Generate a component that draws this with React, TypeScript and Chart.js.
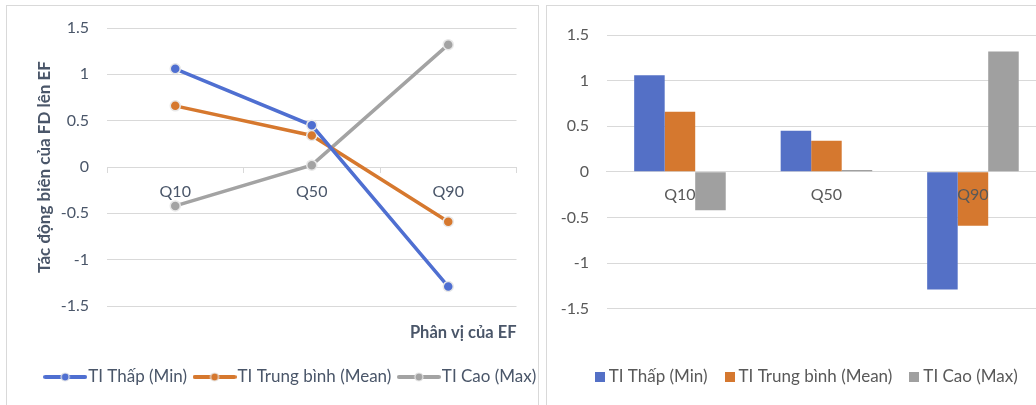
import React, { useEffect, useRef } from 'react';
import { Chart, registerables } from 'chart.js';

Chart.register(...registerables);

const categories = ['Q10', 'Q50', 'Q90'];
const seriesNames = ['TI Thấp (Min)', 'TI Trung bình (Mean)', 'TI Cao (Max)'];
const minValues = [1.06, 0.45, -1.29];
const meanValues = [0.66, 0.34, -0.59];
const maxValues = [-0.42, 0.02, 1.32];
const yTickValues = [-1.5, -1, -0.5, 0, 0.5, 1, 1.5];
const yTickLabels = ['-1.5', '-1', '-0.5', '0', '0.5', '1', '1.5'];
const yAxisTitle = 'Tác động biên của FD lên EF';
const xAxisTitle = 'Phân vị của EF';

const lineColors = ['#4F6FD1', '#D6782E', '#A3A3A3'];
const barColors = ['#5470C6', '#D5782F', '#A0A0A0'];
const FONT = 'Lato';
const leftText = '#4A5669';
const rightText = '#595959';
const gridColor = '#D9D9D9';

const tickLabel = (v: any) => {
  const i = yTickValues.indexOf(Number(v));
  return i >= 0 ? yTickLabels[i] : String(v);
};

function lineMarker(color: string) {
  const c = document.createElement('canvas');
  c.width = 44;
  c.height = 12;
  const g = c.getContext('2d')!;
  g.strokeStyle = color;
  g.lineWidth = 4;
  g.lineCap = 'round';
  g.beginPath();
  g.moveTo(2, 6);
  g.lineTo(42, 6);
  g.stroke();
  g.beginPath();
  g.arc(22, 6, 4, 0, Math.PI * 2);
  g.fillStyle = color;
  g.fill();
  g.lineWidth = 1.2;
  g.strokeStyle = '#E8E8E8';
  g.stroke();
  return c;
}

function squareMarker(color: string) {
  const c = document.createElement('canvas');
  c.width = 10;
  c.height = 10;
  const g = c.getContext('2d')!;
  g.fillStyle = color;
  g.fillRect(0, 0, 10, 10);
  return c;
}

const fixY = (w: number) => (s: any) => {
  s.width = w;
  s.paddingTop = 0;
  s.paddingBottom = 0;
};

export default function App() {
  const leftRef = useRef<HTMLCanvasElement>(null);
  const rightRef = useRef<HTMLCanvasElement>(null);

  useEffect(() => {
    const lineMarkers = lineColors.map(lineMarker);
    const squareMarkers = barColors.map(squareMarker);
    const baseGen = (Chart.defaults as any).plugins.legend.labels.generateLabels;

    const left = new Chart(leftRef.current!, {
      type: 'line',
      data: {
        labels: categories,
        datasets: [minValues, meanValues, maxValues].map((d, i) => ({
          label: seriesNames[i],
          data: d,
          borderColor: lineColors[i],
          backgroundColor: lineColors[i],
          borderWidth: 3.5,
          pointRadius: 5,
          pointBackgroundColor: lineColors[i],
          pointBorderColor: '#E8E8E8',
          pointBorderWidth: 1.5,
          tension: 0,
        })),
      },
      options: {
        animation: false,
        responsive: false,
        layout: { padding: { left: 0, right: 0, top: 21, bottom: 9.5 } },
        scales: {
          x: {
            type: 'category',
            position: { y: 0 } as any,
            offset: true,
            grid: { drawOnChartArea: false, drawTicks: true, tickLength: 5, color: gridColor, offset: true },
            border: { display: true, color: gridColor },
            ticks: { padding: 10, color: leftText, font: { family: FONT, size: 16 } },
          },
          x2: {
            type: 'category',
            position: 'bottom',
            labels: categories,
            grid: { display: false, drawTicks: false },
            border: { display: false },
            ticks: { display: false },
            title: {
              display: true,
              text: xAxisTitle,
              align: 'end',
              color: leftText,
              font: { family: FONT, size: 16.5, weight: 'bold' },
              padding: { top: 0, bottom: 13 },
            },
            afterFit: (s: any) => { s.height = 49.5; },
          } as any,
          y: {
            min: -1.5,
            max: 1.5,
            ticks: { stepSize: 0.5, padding: 18, color: leftText, font: { family: FONT, size: 16 }, callback: tickLabel },
            grid: { color: gridColor, drawTicks: false },
            border: { display: false },
            title: {
              display: true,
              text: yAxisTitle,
              color: leftText,
              font: { family: FONT, size: 17, weight: 'bold', lineHeight: 1 },
              padding: { top: 28.5, bottom: 0 },
            },
            afterFit: fixY(99),
          },
          y2: {
            type: 'linear',
            position: 'right',
            grid: { display: false, drawTicks: false },
            border: { display: false },
            ticks: { display: false },
            afterFit: fixY(62.5),
          } as any,
        },
        plugins: {
          legend: {
            position: 'bottom',
            align: 'center',
            labels: {
              usePointStyle: true,
              pointStyleWidth: 29,
              padding: 13,
              color: leftText,
              font: { family: FONT, size: 17 },
              generateLabels: (chart: any) =>
                baseGen(chart).map((it: any, i: number) => ({ ...it, pointStyle: lineMarkers[i] })),
            },
          },
          tooltip: { enabled: false },
        },
      } as any,
    });

    const right = new Chart(rightRef.current!, {
      type: 'bar',
      data: {
        labels: categories,
        datasets: [minValues, meanValues, maxValues].map((d, i) => ({
          label: seriesNames[i],
          data: d,
          backgroundColor: barColors[i],
          borderWidth: 0,
          categoryPercentage: 0.625,
          barPercentage: 1,
        })),
      },
      options: {
        animation: false,
        responsive: false,
        layout: { padding: { left: 0, right: 0, top: 28, bottom: 31.5 } },
        scales: {
          x: {
            type: 'category',
            position: { y: 0 } as any,
            offset: true,
            grid: { drawOnChartArea: false, drawTicks: false, color: gridColor },
            border: { display: true, color: gridColor },
            ticks: { padding: 13.5, z: 1, color: rightText, font: { family: FONT, size: 16 } },
          },
          x2: {
            type: 'category',
            position: 'bottom',
            labels: categories,
            grid: { display: false, drawTicks: false },
            border: { display: false },
            ticks: { display: false },
            afterFit: (s: any) => { s.height = 38.3; },
          } as any,
          y: {
            min: -1.5,
            max: 1.5,
            ticks: { stepSize: 0.5, padding: 17.7, color: rightText, font: { family: FONT, size: 16 }, callback: tickLabel },
            grid: { color: gridColor, drawTicks: false },
            border: { display: false },
            afterFit: fixY(58.7),
          },
          y2: {
            type: 'linear',
            position: 'right',
            grid: { display: false, drawTicks: false },
            border: { display: false },
            ticks: { display: false },
            afterFit: fixY(22.8),
          } as any,
        },
        plugins: {
          legend: {
            position: 'bottom',
            align: 'center',
            labels: {
              usePointStyle: true,
              pointStyleWidth: 1,
              padding: 21.5,
              color: rightText,
              font: { family: FONT, size: 17 },
              generateLabels: (chart: any) =>
                baseGen(chart).map((it: any, i: number) => ({ ...it, pointStyle: squareMarkers[i] })),
            },
          },
          tooltip: { enabled: false },
        },
      } as any,
    });

    return () => {
      left.destroy();
      right.destroy();
    };
  }, []);

  return (
    <div style={{ position: 'absolute', left: 0, top: 0, width: 1036, height: 405, overflow: 'hidden', background: '#ffffff' }}>
      <div style={{ position: 'absolute', left: 6, top: 5, width: 531, height: 480, border: '1px solid #D9D9D9' }} />
      <div style={{ position: 'absolute', left: 546, top: 5, width: 600, height: 480, border: '1px solid #D9D9D9' }} />
      <canvas ref={leftRef} width={571} height={398} style={{ position: 'absolute', left: 8, top: 7, width: 571, height: 398 }} />
      <canvas ref={rightRef} width={521} height={420} style={{ position: 'absolute', left: 548, top: 7, width: 521, height: 420 }} />
    </div>
  );
}
